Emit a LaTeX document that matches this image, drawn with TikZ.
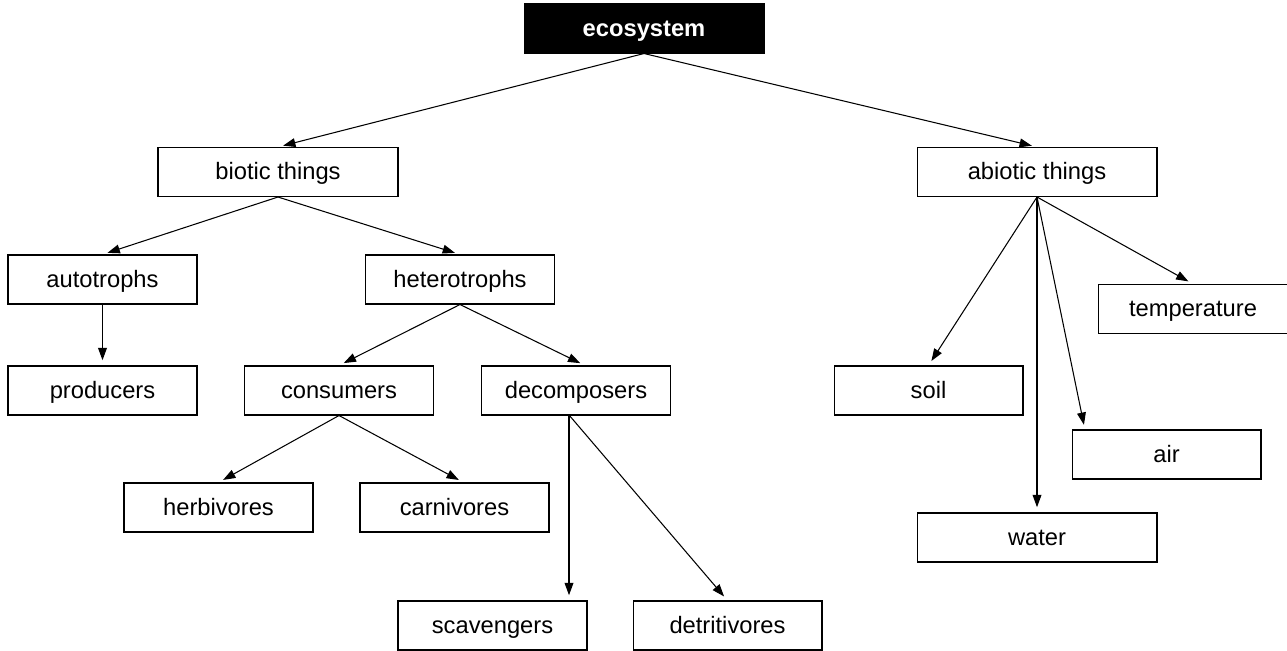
\documentclass[tikz,border=0pt]{standalone}
\usepackage{fontspec}
\setmainfont{Liberation Sans}
\usetikzlibrary{arrows.meta}
\tikzset{
  concept/.style={draw, line width=0.6pt, minimum width=3.78cm, minimum height=0.98cm,
                  inner sep=0pt, text height=11pt, text depth=2pt,
                  font=\fontsize{13.5}{16}\selectfont},
  wideconcept/.style={concept, minimum width=4.8cm},
  rootconcept/.style={wideconcept, fill=black, text=white, font=\fontsize{13.5}{16}\selectfont\bfseries},
  link/.style={-{Triangle[length=7pt,width=5pt]}, line width=0.6pt, shorten >=3pt}
}
\begin{document}
\begin{tikzpicture}[x=0.02cm, y=-0.02cm]
  \useasboundingbox (0,0) rectangle (1287,651);
  \node[rootconcept] (eco) at (644,28.5) {ecosystem};
  \node[wideconcept] (biotic) at (278,172) {biotic things};
  \node[wideconcept] (abiotic) at (1037,172) {abiotic things};
  \node[concept] (auto) at (102.5,279.5) {autotrophs};
  \node[concept] (hetero) at (460,279.5) {heterotrophs};
  \node[concept] (prod) at (102.5,390.5) {producers};
  \node[concept] (cons) at (339,390.5) {consumers};
  \node[concept] (decomp) at (576,390.5) {decomposers};
  \node[concept] (herb) at (218.5,507.5) {herbivores};
  \node[concept] (carn) at (454.5,507.5) {carnivores};
  \node[concept] (scav) at (492.5,625.5) {scavengers};
  \node[concept] (detr) at (727.5,625.5) {detritivores};
  \node[concept] (soil) at (928.5,390.5) {soil};
  \node[concept] (temp) at (1193,309) {temperature};
  \node[concept] (air) at (1166.5,454.5) {air};
  \node[wideconcept] (water) at (1037,537.5) {water};
  \coordinate (airtop) at (1085,430);
  \coordinate (decompfoot) at (569,415);
  \path[link]
    (eco.south) edge (biotic.north)
                edge (abiotic.north)
    (biotic.south) edge (auto.north)
                   edge (hetero.north)
    (auto.south) edge (prod.north)
    (hetero.south) edge (cons.north)
                   edge ([xshift=0.18cm]decomp.north)
    (cons.south) edge (herb.north)
                 edge ([xshift=0.18cm]carn.north)
    (decompfoot) edge (decompfoot |- scav.north)
                 edge (detr.north)
    (abiotic.south) edge (soil.north)
                    edge (abiotic.south |- water.north)
                    edge (airtop)
                    edge (temp.north);
\end{tikzpicture}
\end{document}
